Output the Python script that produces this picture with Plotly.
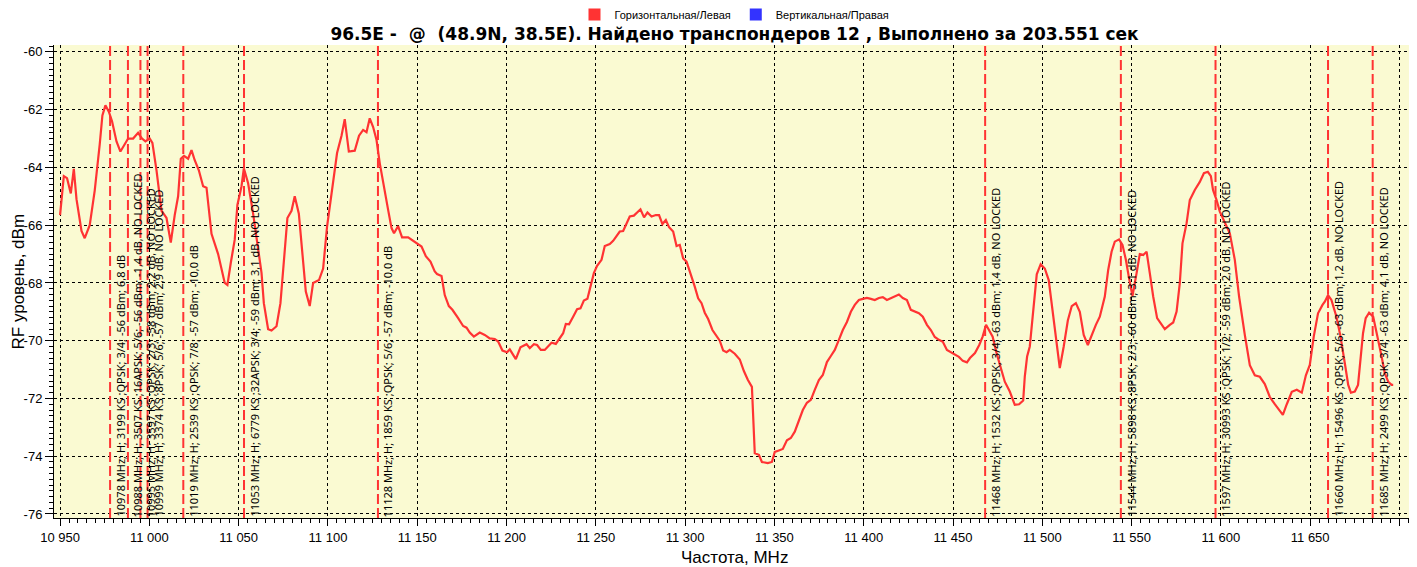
import plotly.graph_objects as go

# ---- data ----
freq_mhz = [
    10950.0, 10952.1, 10953.9, 10956.0, 10957.7, 10959.2, 10962.0, 10963.8, 10966.6, 10969.4,
    10972.2, 10973.7, 10975.4, 10977.3, 10979.1, 10981.6, 10983.8, 10986.2, 10988.1, 10990.9,
    10993.7, 10995.9, 10997.8, 11000.2, 11001.7, 11004.0, 11006.8, 11009.6, 11012.0, 11014.2,
    11016.1, 11017.6, 11019.4, 11021.7, 11023.6, 11025.4, 11027.7, 11030.1, 11032.0, 11034.8,
    11038.5, 11042.2, 11043.7, 11045.6, 11047.8, 11049.3, 11051.6, 11052.9, 11055.3, 11058.1,
    11060.9, 11062.8, 11064.1, 11066.5, 11068.4, 11071.2, 11073.4, 11075.8, 11077.3, 11079.6,
    11081.4, 11083.7, 11085.2, 11087.6, 11089.8, 11091.7, 11095.0, 11097.3, 11099.5, 11102.0,
    11105.1, 11107.6, 11109.4, 11111.7, 11115.0, 11117.4, 11119.7, 11121.6, 11123.4, 11125.3,
    11127.2, 11129.0, 11131.3, 11133.7, 11135.6, 11137.0, 11139.3, 11141.5, 11144.9, 11149.6,
    11152.4, 11154.8, 11157.4, 11159.8, 11161.1, 11163.6, 11165.4, 11167.7, 11169.7, 11172.9,
    11175.7, 11177.6, 11179.4, 11181.7, 11185.0, 11187.8, 11190.6, 11193.4, 11195.3, 11197.7,
    11200.3, 11201.8, 11205.2, 11207.8, 11211.2, 11213.0, 11215.3, 11217.1, 11219.2, 11221.4,
    11225.2, 11227.6, 11229.8, 11231.7, 11233.2, 11235.0, 11237.3, 11239.5, 11241.4, 11243.3,
    11245.3, 11247.2, 11248.9, 11250.7, 11253.2, 11255.0, 11257.8, 11259.7, 11261.6, 11263.4,
    11265.3, 11267.2, 11269.0, 11271.3, 11273.1, 11275.0, 11277.0, 11278.9, 11281.2, 11283.6,
    11285.4, 11287.3, 11289.2, 11291.0, 11293.3, 11295.2, 11297.0, 11298.9, 11300.8, 11303.6,
    11305.4, 11307.3, 11309.2, 11311.0, 11312.9, 11315.3, 11317.6, 11319.4, 11321.3, 11323.2,
    11325.0, 11327.8, 11330.6, 11332.9, 11335.1, 11337.4, 11339.0, 11341.3, 11343.0, 11346.3,
    11348.6, 11350.2, 11352.5, 11354.7, 11357.0, 11359.2, 11361.4, 11363.7, 11365.9, 11368.2,
    11370.4, 11372.6, 11374.9, 11377.1, 11379.4, 11381.6, 11383.8, 11386.1, 11388.3, 11390.6,
    11392.8, 11395.0, 11397.3, 11399.5, 11401.8, 11404.0, 11406.2, 11408.5, 11410.7, 11413.0,
    11415.2, 11417.4, 11419.7, 11421.9, 11424.2, 11426.4, 11428.6, 11430.9, 11433.1, 11435.4,
    11437.6, 11439.8, 11442.1, 11444.3, 11446.6, 11448.8, 11451.0, 11453.3, 11455.5, 11457.8,
    11459.5, 11462.3, 11464.7, 11466.6, 11468.5, 11470.2, 11472.2, 11474.4, 11476.6, 11479.0,
    11481.8, 11484.6, 11487.0, 11489.3, 11490.2, 11491.5, 11493.0, 11495.2, 11496.9, 11499.1,
    11501.4, 11503.6, 11505.8, 11508.1, 11509.8, 11512.0, 11514.3, 11516.5, 11518.8, 11521.0,
    11523.2, 11525.5, 11527.7, 11530.0, 11532.2, 11535.0, 11536.9, 11538.8, 11540.6, 11543.0,
    11544.9, 11546.8, 11548.6, 11550.5, 11552.8, 11554.6, 11556.5, 11558.4, 11560.2, 11562.1,
    11564.3, 11566.8, 11568.6, 11571.4, 11573.3, 11575.2, 11577.0, 11578.5, 11580.8, 11582.6,
    11585.4, 11588.2, 11590.5, 11592.7, 11594.4, 11595.6, 11597.6, 11599.4, 11602.2, 11605.0,
    11607.8, 11610.2, 11613.4, 11616.2, 11619.0, 11621.8, 11624.6, 11627.4, 11630.2, 11633.0,
    11634.7, 11636.9, 11639.7, 11642.5, 11645.3, 11647.6, 11649.8, 11652.0, 11654.4, 11656.9,
    11658.2, 11660.0, 11661.9, 11664.7, 11667.0, 11669.4, 11671.3, 11672.8, 11675.0, 11676.8,
    11678.2, 11679.6, 11681.1, 11683.0, 11685.3, 11688.0, 11690.0, 11691.8, 11693.7, 11695.6,
    11696.5,
]

level_dbm = [
    -65.65, -64.30, -64.37, -64.90, -64.05, -65.10, -66.20, -66.45, -66.00, -64.80,
    -63.20, -62.20, -61.85, -62.07, -62.40, -63.10, -63.45, -63.20, -63.00, -63.00,
    -62.80, -63.00, -63.10, -63.00, -63.15, -64.10, -65.50, -65.75, -66.60, -65.65,
    -65.00, -63.70, -63.60, -63.70, -63.40, -63.75, -64.10, -64.65, -64.70, -66.30,
    -67.00, -68.00, -68.07, -67.30, -66.50, -65.30, -64.65, -64.03, -64.55, -65.60,
    -66.85, -67.65, -68.70, -69.60, -69.65, -69.50, -68.70, -66.85, -65.75, -65.50,
    -65.00, -65.60, -66.75, -68.30, -68.80, -68.00, -67.90, -67.50, -66.05, -64.90,
    -63.50, -62.90, -62.33, -63.45, -63.42, -62.90, -62.70, -62.78, -62.30, -62.60,
    -63.05, -63.85, -64.72, -65.47, -66.10, -66.28, -66.03, -66.42, -66.42, -66.63,
    -66.74, -67.07, -67.26, -67.60, -67.69, -67.76, -68.42, -68.80, -68.93, -69.22,
    -69.49, -69.55, -69.72, -69.86, -69.72, -69.80, -69.92, -69.94, -70.03, -70.34,
    -70.40, -70.30, -70.64, -70.23, -70.12, -70.26, -70.12, -70.15, -70.32, -70.32,
    -70.07, -70.11, -69.92, -69.74, -69.42, -69.43, -69.17, -68.91, -68.88, -68.61,
    -68.55, -68.07, -67.66, -67.41, -67.20, -66.72, -66.65, -66.54, -66.37, -66.22,
    -66.20, -65.91, -65.70, -65.67, -65.55, -65.45, -65.73, -65.56, -65.70, -65.65,
    -65.65, -65.96, -65.82, -66.07, -66.22, -66.72, -66.68, -67.15, -67.26, -67.76,
    -68.13, -68.53, -68.70, -69.03, -69.25, -69.63, -69.86, -70.00, -70.34, -70.40,
    -70.32, -70.45, -70.65, -71.05, -71.35, -71.60, -73.90, -73.95, -74.20, -74.24,
    -74.20, -73.85, -73.80, -73.75, -73.45, -73.37, -73.15, -72.80, -72.40, -72.15,
    -72.05, -71.70, -71.36, -71.19, -70.74, -70.53, -70.32, -69.97, -69.63, -69.35,
    -69.00, -68.76, -68.59, -68.55, -68.52, -68.55, -68.59, -68.52, -68.49, -68.59,
    -68.52, -68.45, -68.40, -68.52, -68.59, -68.93, -69.00, -69.05, -69.17, -69.45,
    -69.63, -69.87, -69.97, -70.04, -70.32, -70.39, -70.46, -70.56, -70.70, -70.75,
    -70.60, -70.43, -70.15, -69.86, -69.45, -69.63, -69.86, -70.43, -70.90, -71.42,
    -71.76, -72.22, -72.20, -72.07, -71.24, -70.55, -70.20, -68.80, -67.70, -67.35,
    -67.50, -67.90, -69.00, -70.15, -70.95, -70.20, -69.30, -68.80, -68.70, -69.00,
    -69.80, -70.15, -69.80, -69.45, -69.17, -68.47, -67.55, -66.92, -66.57, -66.49,
    -66.68, -67.20, -67.84, -68.45, -67.66, -67.00, -67.03, -66.92, -67.66, -68.47,
    -69.22, -69.45, -69.60, -69.45, -69.37, -68.99, -68.01, -66.63, -65.93, -65.13,
    -64.78, -64.50, -64.20, -64.15, -64.30, -64.78, -65.13, -65.53, -65.88, -66.28,
    -67.20, -68.47, -69.80, -70.85, -71.20, -71.25, -71.50, -71.95, -72.20, -72.45,
    -72.57, -72.20, -71.77, -71.70, -71.80, -71.20, -70.84, -69.86, -69.05, -68.76,
    -68.65, -68.42, -68.59, -69.17, -69.86, -70.78, -71.53, -71.80, -71.76, -71.53,
    -70.67, -69.74, -69.22, -69.03, -69.17, -69.92, -70.55, -71.13, -71.42, -71.53,
    -71.53,
]

tp_freq = [10978, 10988, 10995, 10999, 11019, 11053, 11128, 11468, 11544, 11597, 11660, 11685]
tp_labels = [
    "10978 MHz; H; 3199 KS ;QPSK; 3/4; -56 dBm; 6,8 dB",
    "10988 MHz; H; 3507 KS ;16APSK; 5/6; -56 dBm; -1,4 dB, NO LOCKED",
    "10995 MHz; H; 3597 KS ;QPSK; 2/3; -58 dBm; 2,2 dB, NO LOCKED",
    "10999 MHz; H; 3374 KS ;8PSK; 5/6; -57 dBm; 2,9 dB, NO LOCKED",
    "11019 MHz; H; 2539 KS ;QPSK; 7/8; -57 dBm; -10,0 dB",
    "11053 MHz; H; 6779 KS ;32APSK; 3/4; -59 dBm; 3,1 dB, NO LOCKED",
    "11128 MHz; H; 1859 KS ;QPSK; 5/6; -57 dBm; -10,0 dB",
    "11468 MHz; H; 1532 KS ;QPSK; 3/4; -63 dBm; 1,4 dB, NO LOCKED",
    "11544 MHz; H; 5898 KS ;8PSK; 2/3; -60 dBm; 3,1 dB, NO LOCKED",
    "11597 MHz; H; 30993 KS ;QPSK; 1/2; -59 dBm; 2,0 dB, NO LOCKED",
    "11660 MHz; H; 15496 KS ;QPSK; 5/6; -63 dBm; 1,2 dB, NO LOCKED",
    "11685 MHz; H; 2499 KS ;QPSK; 3/4; -63 dBm; 4,1 dB, NO LOCKED",
]

x_tick_vals = [10950, 11000, 11050, 11100, 11150, 11200, 11250, 11300, 11350,
               11400, 11450, 11500, 11550, 11600, 11650, 11700]
x_tick_text = ["10 950", "11 000", "11 050", "11 100", "11 150", "11 200", "11 250", "11 300",
               "11 350", "11 400", "11 450", "11 500", "11 550", "11 600", "11 650", "11 700"]
y_tick_vals = [-60, -62, -64, -66, -68, -70, -72, -74, -76]
y_tick_text = ["-60", "-62", "-64", "-66", "-68", "-70", "-72", "-74", "-76"]

series_names = ["Горизонтальная/Левая", "Вертикальная/Правая"]
series_colors = ["#FF3333", "#3333FF"]

title_text = "96.5E -  @  (48.9N, 38.5E). Найдено транспондеров 12 , Выполнено за 203.551 сек"
x_title = "Частота, MHz"
y_title = "RF уровень, dBm"

# ---- figure ----
# The page body has an 8px margin, so the figure is drawn 8px smaller and
# every position below is in figure pixels (= page pixels - 8).
RED = "#FF3333"
W, H = 1409, 559
ML, MR, MT, MB = 46, 2, 37, 49
PW, PH = W - ML - MR, H - MT - MB

fig = go.Figure()

fig.add_trace(go.Scatter(
    x=freq_mhz, y=level_dbm, mode="lines",
    line=dict(color=RED, width=2.2), showlegend=False, hoverinfo="x+y",
))

for name, col in zip(series_names, series_colors):
    fig.add_trace(go.Scatter(
        x=[None], y=[None], mode="markers", name=name,
        marker=dict(symbol="square", size=9, color=col),
    ))

for f, lab in zip(tp_freq, tp_labels):
    fig.add_vline(x=f, line=dict(color=RED, width=2, dash="10px,4px"), layer="above")
    fig.add_annotation(
        x=f, y=-76.0, xref="x", yref="y", text=lab, textangle=-90,
        xanchor="left", yanchor="bottom", showarrow=False, xshift=1, yshift=-5,
        font=dict(family="Noto Sans, Liberation Sans, Arial, sans-serif", size=11, color="black"),
    )

# axis titles as annotations for exact placement
fig.add_annotation(
    x=0.5, xref="paper", y=-(549 - (H - MB)) / PH, yref="paper",
    text=x_title, showarrow=False, xanchor="center", yanchor="middle",
    font=dict(family="Liberation Sans, Arial, sans-serif", size=17, color="black"),
)
fig.add_annotation(
    x=-(ML - 10) / PW, xref="paper", y=0.5, yref="paper",
    text=y_title, textangle=-90, showarrow=False, xanchor="center", yanchor="middle",
    font=dict(family="Liberation Sans, Arial, sans-serif", size=17, color="black"),
)

fig.update_layout(
    width=W, height=H,
    margin=dict(l=ML, r=MR, t=MT, b=MB, pad=0, autoexpand=False),
    paper_bgcolor="white",
    plot_bgcolor="#FAFAD2",
    font=dict(family="Liberation Sans, Arial, sans-serif", color="black"),
    title=dict(
        text="<b>" + title_text + "</b>",
        x=0.5, xref="paper", xanchor="center",
        y=1 - 26 / H, yref="container", yanchor="middle",
        font=dict(family="DejaVu Sans, Verdana, sans-serif", size=17, color="black"),
    ),
    legend=dict(
        orientation="h", x=0.5, xanchor="center",
        yref="paper", y=1 + (MT + 8) / PH, yanchor="top",
        font=dict(size=11, family="Liberation Sans, Arial, sans-serif"),
        itemsizing="constant", itemwidth=30, bgcolor="rgba(0,0,0,0)",
    ),
    showlegend=True,
)

fig.update_xaxes(
    range=[10946.6, 11708.7],
    tickvals=x_tick_vals, ticktext=x_tick_text,
    ticks="outside", ticklen=7, tickwidth=1, tickcolor="black",
    tickfont=dict(size=13),
    showline=True, linecolor="black", linewidth=1, mirror=False,
    showgrid=True, gridcolor="black", gridwidth=1, griddash="dot",
    zeroline=False, automargin=False,
    minor=dict(ticks="outside", ticklen=4, dtick=5, tickcolor="black", showgrid=False),
)
fig.update_yaxes(
    range=[-76.14, -59.76],
    tickvals=y_tick_vals, ticktext=y_tick_text,
    ticks="outside", ticklen=8, tickwidth=1, tickcolor="black",
    tickfont=dict(size=13),
    showline=True, linecolor="black", linewidth=1, mirror=False,
    showgrid=True, gridcolor="black", gridwidth=1, griddash="dot",
    zeroline=False, automargin=False,
    minor=dict(ticks="outside", ticklen=4, dtick=0.2, tickcolor="black", showgrid=False),
)

fig.write_html("out.html")
